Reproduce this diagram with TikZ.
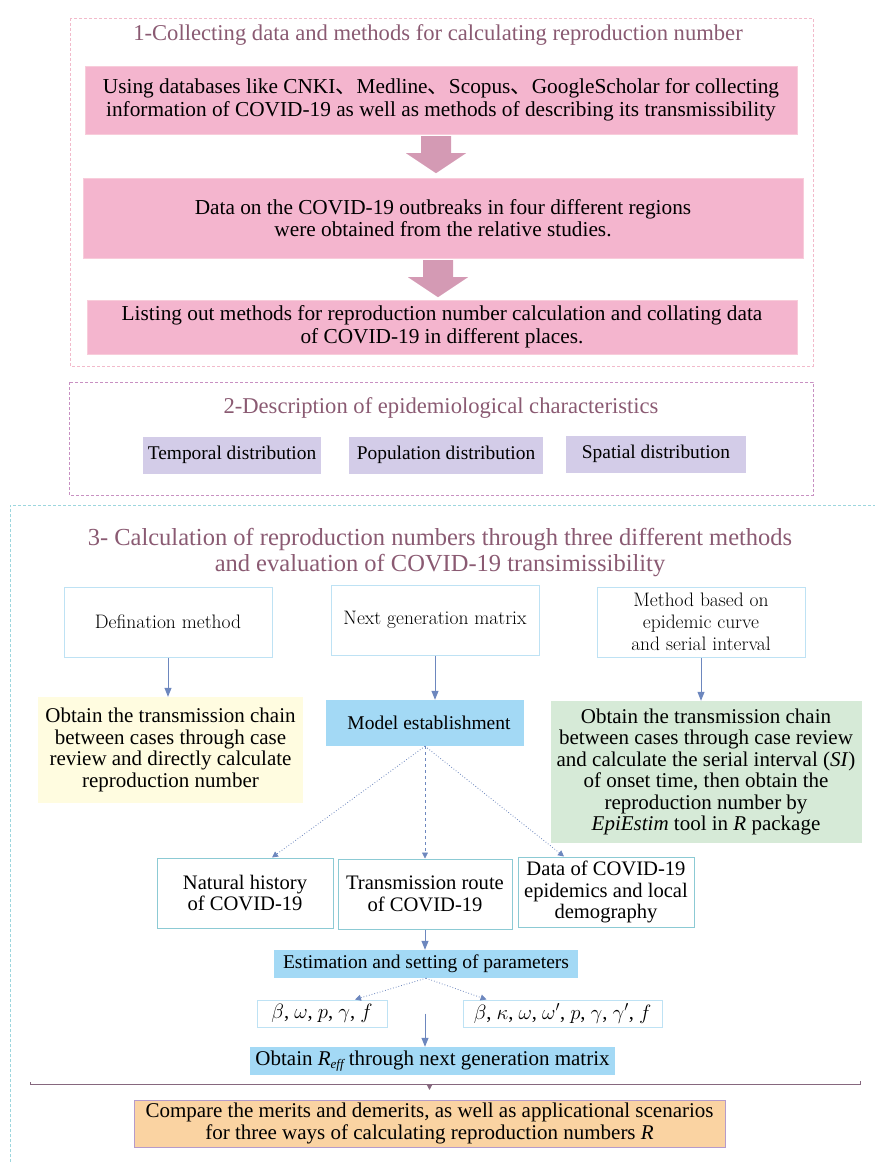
\documentclass[tikz,border=0pt]{standalone}
\usepackage{fontspec}
\setmainfont{Liberation Serif}
\newfontfamily\cjk{Noto Sans CJK SC}
\newfontfamily\lmroman{Latin Modern Roman}
\usetikzlibrary{arrows.meta, positioning, calc}

\definecolor{headcol}{HTML}{8A5A72}
\definecolor{pinkfill}{HTML}{F4B5CE}
\definecolor{pinkline}{HTML}{F8CCDA}
\definecolor{arrowpink}{HTML}{D49AB4}
\definecolor{pinkdash}{HTML}{F2BACB}
\definecolor{violetdash}{HTML}{C890C2}
\definecolor{lavfill}{HTML}{D3CCE8}
\definecolor{cyandash}{HTML}{9CD6DE}
\definecolor{paleline}{HTML}{BEE2F4}
\definecolor{tealline}{HTML}{8CCAD4}
\definecolor{skyfill}{HTML}{A3D9F5}
\definecolor{arrowblue}{HTML}{6D87BE}
\definecolor{yellowfill}{HTML}{FFFCE0}
\definecolor{greenfill}{HTML}{D6EAD7}
\definecolor{orangefill}{HTML}{FAD3A2}
\definecolor{orangeline}{HTML}{B59BCB}
\definecolor{barcol}{HTML}{86677E}

\begin{document}
\begin{tikzpicture}[x=1pt, y=-1pt,
    title/.style={text=headcol, align=center, font=\fontsize{22.6}{26}\selectfont},
    pinkbox/.style={draw=pinkline, fill=pinkfill, align=center, inner sep=0pt, font=\fontsize{21.3}{22.5}\selectfont},
    lavbox/.style={fill=lavfill, minimum height=37, inner sep=0pt, font=\fontsize{19.4}{21}\selectfont},
    methbox/.style={draw=paleline, line width=1pt, fill=white, minimum width=208, minimum height=70, align=center, inner sep=0pt, font=\lmroman\fontsize{19.5}{22}\selectfont},
    textbox/.style={align=center, inner sep=0pt, font=\fontsize{21}{21.5}\selectfont},
    plainbox/.style={draw=tealline, line width=1pt, fill=white, align=center, inner sep=0pt, minimum height=70, font=\fontsize{20.6}{21.5}\selectfont},
    skybox/.style={fill=skyfill, inner sep=0pt, font=\fontsize{19.5}{21}\selectfont},
    parbox/.style={draw=paleline, line width=1pt, minimum height=27, inner sep=0pt, font=\fontsize{20.5}{21}\selectfont},
    link/.style={draw=arrowblue, line width=1pt, -{Triangle[width=7pt, length=9pt]}},
    dotlink/.style={draw=arrowblue, line width=0.8pt, dotted, -{Triangle[width=6pt, length=6pt]}},
    frame/.style={line width=0.8pt, dash pattern=on 3pt off 2pt},
]
\useasboundingbox (0,0) rectangle (875,1162);

% section 1
\draw[frame, pinkdash] (70,18) rectangle (813,366);
\node[title] (t1) at (438,35) {1-Collecting data and methods for calculating reproduction number};
\node[pinkbox, minimum width=712, minimum height=68] (collect) at (441,100) {Using databases like CNKI{\cjk 、}Medline{\cjk 、}Scopus{\cjk 、}GoogleScholar for collecting\\information of COVID-19 as well as methods of describing its transmissibility};
\node[pinkbox, minimum width=720, minimum height=80] (outbreak) at (443,218) {Data on the COVID-19 outbreaks in four different regions\\were obtained from the relative studies.};
\node[pinkbox, minimum width=710, minimum height=54] (listing) at (442,327) {Listing out methods for reproduction number calculation and collating data\\of COVID-19 in different places.};

\foreach \u/\v in {collect/outbreak, outbreak/listing}
    \fill[arrowpink] ($(\u.south)+(-20,2)$) -- ++(30,0) -- ++(0,17) -- ++(15,0)
        -- ++(-30,20) -- ++(-30,-20) -- ++(15,0) -- cycle;

% section 2
\draw[frame, violetdash] (69,382) rectangle (813,495);
\node[title] (t2) at (441,408) {2-Description of epidemiological characteristics};
\node[lavbox, minimum width=178] (temporal) at (232,455) {Temporal distribution};
\node[lavbox, minimum width=194] (population) at (446,455) {Population distribution};
\node[lavbox, minimum width=180] (spatial) at (656,454) {Spatial distribution};

% section 3
\draw[frame, cyandash] (10,1162) -- (10,505) -- (875,505);
\node[title, font=\fontsize{24.5}{26}\selectfont] (t3) at (440,553) {3- Calculation of reproduction numbers through three different methods\\and evaluation of COVID-19 transimissibility};

\node[methbox] (defn) at (168,622) {Defination method};
\node[methbox] (ngm) at (435,620) {Next generation matrix};
\node[methbox] (epi) at (701,622) {Method based on\\epidemic curve\\and serial interval};

\node[textbox, fill=yellowfill, minimum width=265, minimum height=106] (direct) at (170.5,750) {Obtain the transmission chain\\between cases through case\\review and directly calculate\\reproduction number};
\node[skybox, minimum width=198, minimum height=46] (model) at (425,723) {\hspace{8pt}Model establishment};
\node[textbox, fill=greenfill, minimum width=311, minimum height=142] (serial) at (706,772) {Obtain the transmission chain\\between cases through case review\\and calculate the serial interval (\textit{SI})\\of onset time, then obtain the\\reproduction number by\\\textit{EpiEstim} tool in \textit{R} package};

\draw[link] (defn.south) -- (defn.south |- direct.north);
\draw[link] (ngm.south) -- (ngm.south |- model.north);
\draw[link] (epi.south) -- (epi.south |- serial.north);

\node[plainbox, minimum width=176] (natural) at (245,893) {Natural history\\of COVID-19};
\node[plainbox, minimum width=174] (route) at (425,894) {Transmission route\\of COVID-19};
\node[plainbox, minimum width=176] (local) at (606,892) {Data of COVID-19\\epidemics and local\\demography};

\draw[dotlink] (model.south) -- ([xshift=27pt]natural.north);
\draw[dotlink, dashed] (model.south) -- (route.north);
\draw[dotlink] (model.south) -- ([xshift=-42pt]local.north);

\node[skybox, minimum width=304, minimum height=28] (estim) at (426,964) {Estimation and setting of parameters};
\draw[link] (route.south) -- (route.south |- estim.north);

\node[parbox, minimum width=130] (parone) at (322,1013.5) {$\beta$, $\omega$, $p$, $\gamma$, $f$};
\node[parbox, minimum width=199] (partwo) at (562.5,1013.5) {$\beta$, $\kappa$, $\omega$, $\omega'$, $p$, $\gamma$, $\gamma'$, $f$};
\draw[dotlink] (estim.south) -- ([xshift=33pt]parone.north);
\draw[dotlink] (estim.south) -- ([xshift=-76pt]partwo.north);

\node[skybox, font=\fontsize{21}{21}\selectfont, minimum width=365, minimum height=28] (reff) at (432.5,1061) {Obtain \textit{R}\raisebox{-0.3ex}{\itshape\fontsize{13}{13}\selectfont eff} through next generation matrix};
\coordinate (gap) at ($(parone.east)!0.5!(partwo.west)$);
\draw[link] (gap |- parone.center) -- (gap |- reff.north);

% closing bar
\node[textbox, fill=orangefill, draw=orangeline, line width=1pt, minimum width=591, minimum height=47] (compare) at (429.5,1123.5) {Compare the merits and demerits, as well as applicational scenarios\\for three ways of calculating reproduction numbers \textit{R}};
\coordinate (barL) at (30,1084);
\coordinate (barR) at (860,1084);
\draw[barcol, line width=1pt] ($(barL)+(0,-2)$) -- (barL) -- (barR) -- ($(barR)+(0,-3)$);
\draw[barcol, line width=1pt, -{Triangle[width=5pt, length=5pt]}] (barL -| compare.north) -- ++(0,6);
\end{tikzpicture}
\end{document}
